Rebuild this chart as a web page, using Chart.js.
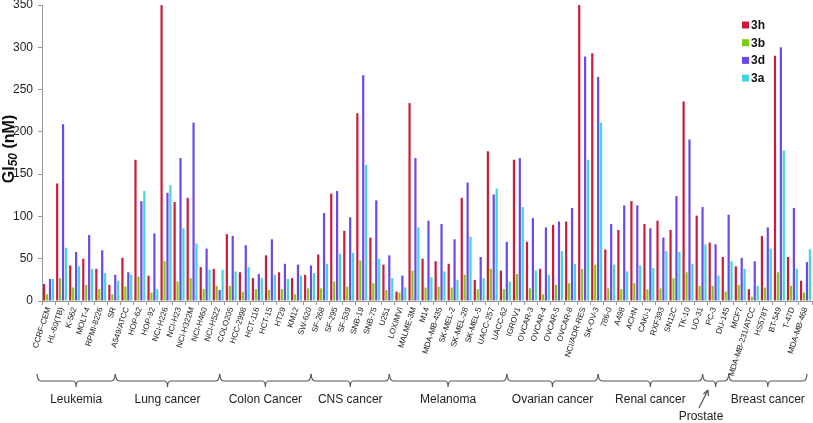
<!DOCTYPE html>
<html><head><meta charset="utf-8">
<script src="https://cdn.jsdelivr.net/npm/chart.js@4"></script>
<style>html,body{margin:0;padding:0;background:#fff}#wrap{width:813px;height:423px;position:relative}</style>
</head><body><div id="wrap"><canvas id="c"></canvas></div>
<script>
const cellLines = ['CCRF-CEM','HL-60(TB)','K-562','MOLT-4','RPMI-8226','SR',
 'A549/ATCC','HOP-62','HOP-92','NCI-H226','NCI-H23','NCI-H322M','NCI-H460','NCI-H522',
 'COLO205','HCC-2998','HCT-116','HCT-15','HT29','KM12','SW-620',
 'SF-268','SF-295','SF-539','SNB-19','SNB-75','U251',
 'LOXIMVI','MALME-3M','M14','MDA-MB-435','SK-MEL-2','SK-MEL-28','SK-MEL-5','UACC-257','UACC-62',
 'IGROV1','OVCAR-3','OVCAR-4','OVCAR-5','OVCAR-8','NCI/ADR-RES','SK-OV-3',
 '786-0','A498','ACHN','CAKI-1','RXF393','SN12C','TK-10','UO-31',
 'PC-3','DU-145',
 'MCF7','MDA-MB-231/ATCC','HS578T','BT-549','T-47D','MDA-MB-468'];
const s3h = [20,139,42,50,38,19, 51,167,30,350,117,122,40,38, 79,34,27,54,34,27,31,
 55,127,83,222,75,43, 11,234,50,47,44,122,25,177,36, 167,70,38,90,94,350,293,
 61,84,118,91,95,84,236,101, 69,52, 41,14,77,290,52,24];
const s3b = [8,27,16,19,14,8, 17,29,10,47,23,27,14,18, 18,11,14,13,14,8,15,
 15,23,17,48,21,13, 10,36,16,17,16,31,14,38,14, 32,15,8,19,21,38,43,
 15,14,21,14,15,27,34,18, 18,11, 19,5,16,34,18,10];
const s3d = [26,209,58,78,60,31, 34,118,80,128,169,211,62,13, 77,66,32,73,44,43,42,
 104,130,99,267,119,54, 30,169,95,91,73,140,52,126,70, 169,98,87,94,110,289,265,
 91,113,113,86,75,124,191,111, 67,102, 51,47,87,300,110,46];
const s3a = [26,63,41,38,33,24, 31,130,14,137,86,68,37,37, 35,40,27,31,26,30,33,
 44,56,57,161,50,27, 16,87,28,35,25,76,27,133,23, 111,36,31,59,44,167,211,
 43,35,42,39,59,58,44,67, 30,47, 38,18,62,178,38,61];
const seriesNames = ['3h','3b','3d','3a'];
const seriesColors = ['#cc1a38','#80cc14','#6a48ee','#44d6d8'];
const yTicks = [0,50,100,150,200,250,300,350];
const groups = [
 {name:'Leukemia',start:0,end:5},{name:'Lung cancer',start:6,end:13},
 {name:'Colon Cancer',start:14,end:20},{name:'CNS cancer',start:21,end:26},
 {name:'Melanoma',start:27,end:35},{name:'Ovarian cancer',start:36,end:42},
 {name:'Renal cancer',start:43,end:50},{name:'Prostate',start:51,end:52},
 {name:'Breast cancer',start:53,end:58}];

const FONT = '"Liberation Sans", Arial, sans-serif';
const extras = {
 id:'extras',
 afterDraw(chart){
  const ctx = chart.ctx, x = chart.scales.x;
  const half = (x.getPixelForValue(1)-x.getPixelForValue(0))/2;
  ctx.save();
  ctx.strokeStyle = '#555'; ctx.lineWidth = 1.2; ctx.fillStyle = '#222';
  ctx.font = '12px ' + FONT; ctx.textAlign = 'center'; ctx.textBaseline = 'middle';
  groups.forEach(g => {
   const l = x.getPixelForValue(g.start) - half - 5;
   const r = x.getPixelForValue(g.end) + half - 5;
   const c = (l + r) / 2, yl = 381;
   ctx.beginPath();
   ctx.moveTo(l, 374);
   ctx.quadraticCurveTo(l + 0.5, yl, l + 4, yl);
   ctx.lineTo(c - 3, yl);
   ctx.quadraticCurveTo(c, yl, c, yl + 6);
   ctx.quadraticCurveTo(c, yl, c + 3, yl);
   ctx.lineTo(r - 4, yl);
   ctx.quadraticCurveTo(r - 0.5, yl, r, 374);
   ctx.stroke();
   if (g.name === 'Prostate') {
    ctx.fillText(g.name, 701, 417);
    ctx.beginPath(); ctx.moveTo(699, 408); ctx.lineTo(708, 390); ctx.stroke();
    ctx.beginPath(); ctx.moveTo(708, 390); ctx.lineTo(703.5, 394); ctx.moveTo(708, 390); ctx.lineTo(708.5, 396); ctx.stroke();
   } else {
    ctx.fillText(g.name, c, 400);
   }
  });
  // y title
  ctx.save();
  ctx.translate(10, 149); ctx.rotate(-Math.PI / 2);
  ctx.fillStyle = '#111'; ctx.textBaseline = 'middle'; ctx.textAlign = 'left';
  const f1 = 'bold 16px ' + FONT, f2 = 'bold italic 12px ' + FONT;
  ctx.font = f1; const w1 = ctx.measureText('GI').width, w3 = ctx.measureText(' (nM)').width;
  ctx.font = f2; const w2 = ctx.measureText('50').width;
  let sx = -(w1 + w2 + w3) / 2;
  ctx.font = f1; ctx.fillText('GI', sx, 0); sx += w1;
  ctx.font = f2; ctx.fillText('50', sx, 4); sx += w2;
  ctx.font = f1; ctx.fillText(' (nM)', sx, 0);
  ctx.restore();
  // legend
  ctx.font = 'bold 12px ' + FONT; ctx.textAlign = 'left'; ctx.textBaseline = 'middle';
  chart.data.datasets.forEach((ds, i) => {
   const yy = 25 + i * 17.7;
   ctx.fillStyle = ds.backgroundColor; ctx.fillRect(742, yy - 3.5, 7, 7);
   ctx.fillStyle = '#111'; ctx.fillText(ds.label, 751, yy + 0.5);
  });
  ctx.restore();
 }
};

const sData = [s3h, s3b, s3d, s3a];
new Chart(document.getElementById('c'), {
 type: 'bar',
 data: {
  labels: cellLines,
  datasets: seriesNames.map((n, i) => ({
   label: n, data: sData[i], backgroundColor: seriesColors[i],
   categoryPercentage: 0.9, barPercentage: 0.75
  }))
 },
 options: {
  responsive: true, maintainAspectRatio: false, animation: false,
  layout: { padding: { top: 5, right: 1, left: 0, bottom: 0 } },
  plugins: { legend: { display: false }, tooltip: { enabled: false } },
  scales: {
   x: {
    afterFit: a => { a.height = 122; a.paddingLeft = 0; a.paddingRight = 0; },
    border: { color: '#999', width: 1 },
    grid: { display: true, drawOnChartArea: false, tickLength: 4, color: '#999', offset: true },
    ticks: { autoSkip: false, minRotation: 72, maxRotation: 72, padding: 1,
     color: '#222', font: { family: FONT, size: 8 } }
   },
   y: {
    min: 0, max: 350,
    afterFit: a => { a.width = 42; a.paddingTop = 0; a.paddingBottom = 0; },
    afterBuildTicks: a => { a.ticks = yTicks.map(v => ({ value: v })); },
    border: { color: '#999', width: 1 },
    grid: { display: true, drawOnChartArea: false, tickLength: 4, color: '#999' },
    ticks: { padding: 5, color: '#222', font: { family: FONT, size: 12 } }
   }
  }
 },
 plugins: [extras]
});
</script></body></html>
